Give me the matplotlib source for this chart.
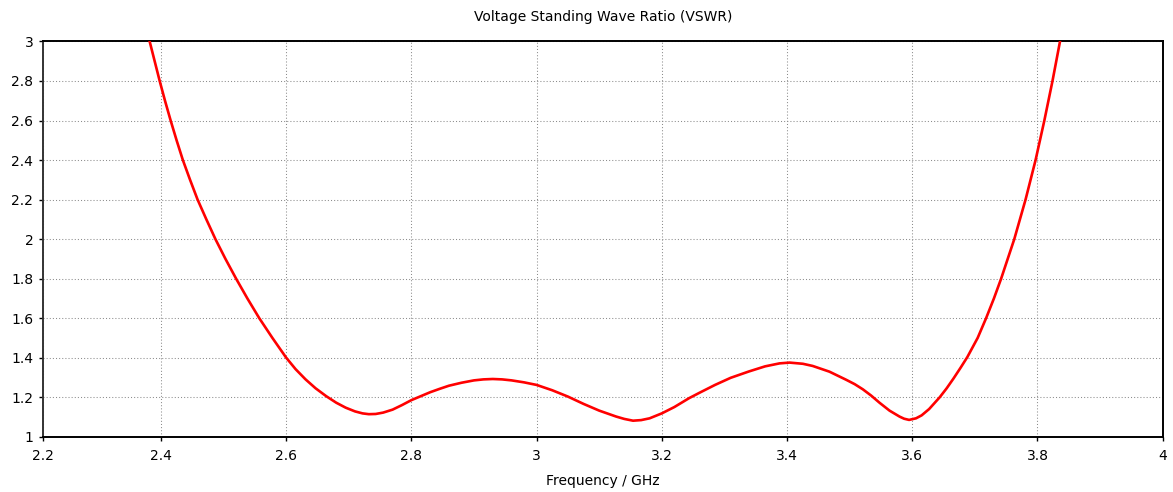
import matplotlib
matplotlib.use("Agg")
import matplotlib.pyplot as plt

# ---- data ----
freq_ghz = [2.374, 2.382, 2.390, 2.398, 2.4065, 2.4155, 2.425, 2.435, 2.4465, 2.4585,
            2.4725, 2.487, 2.503, 2.520, 2.538, 2.557, 2.578, 2.600, 2.615, 2.631,
            2.647, 2.664, 2.680, 2.695, 2.710, 2.722, 2.732, 2.743, 2.755, 2.770,
            2.785, 2.800, 2.815, 2.830, 2.845, 2.860, 2.880, 2.900, 2.915, 2.930,
            2.945, 2.960, 2.980, 3.000, 3.025, 3.050, 3.075, 3.100, 3.127, 3.140,
            3.154, 3.167, 3.1805, 3.200, 3.220, 3.2436, 3.260, 3.285, 3.310, 3.339,
            3.365, 3.388, 3.404, 3.4253, 3.441, 3.4678, 3.4945, 3.508, 3.521, 3.5344,
            3.5477, 3.5637, 3.5796, 3.587, 3.595, 3.606, 3.615, 3.627, 3.644, 3.655,
            3.666, 3.677, 3.688, 3.7045, 3.718, 3.7305, 3.742, 3.7525, 3.763, 3.772,
            3.781, 3.789, 3.797, 3.804, 3.811, 3.8175, 3.824, 3.830, 3.836, 3.8415]
vswr = [3.09, 3.00, 2.90, 2.80, 2.70, 2.60, 2.50, 2.40, 2.30, 2.20,
        2.10, 2.00, 1.90, 1.80, 1.70, 1.60, 1.50, 1.40, 1.342, 1.290,
        1.245, 1.205, 1.172, 1.147, 1.128, 1.118, 1.114, 1.115, 1.122, 1.137,
        1.160, 1.185, 1.205, 1.225, 1.242, 1.258, 1.273, 1.285, 1.290, 1.292,
        1.290, 1.285, 1.275, 1.262, 1.235, 1.203, 1.166, 1.132, 1.102, 1.090,
        1.081, 1.084, 1.093, 1.118, 1.150, 1.195, 1.222, 1.262, 1.298, 1.330,
        1.356, 1.371, 1.375, 1.369, 1.358, 1.329, 1.288, 1.266, 1.240, 1.208,
        1.172, 1.132, 1.102, 1.091, 1.085, 1.093, 1.108, 1.140, 1.200, 1.245,
        1.295, 1.348, 1.403, 1.500, 1.600, 1.700, 1.800, 1.900, 2.000, 2.100,
        2.200, 2.300, 2.400, 2.500, 2.600, 2.700, 2.800, 2.900, 3.000, 3.100]

x_tick_labels = ["2.2", "2.4", "2.6", "2.8", "3", "3.2", "3.4", "3.6", "3.8", "4"]
x_tick_values = [2.2, 2.4, 2.6, 2.8, 3.0, 3.2, 3.4, 3.6, 3.8, 4.0]
y_tick_values = [1.0, 1.2, 1.4, 1.6, 1.8, 2.0, 2.2, 2.4, 2.6, 2.8, 3.0]
y_tick_labels = ["1", "1.2", "1.4", "1.6", "1.8", "2", "2.2", "2.4", "2.6", "2.8", "3"]

title = "Voltage Standing Wave Ratio (VSWR)"
xlabel = "Frequency / GHz"

# ---- figure ----
plt.rcParams["font.family"] = ["DejaVu Sans"]
fig = plt.figure(figsize=(11.73, 4.92), dpi=100)
ax = fig.add_axes([0.0367, 0.1124, 0.9545, 0.8033])

x_left = 2.2117
ax.plot(freq_ghz, vswr, color="#ff0000", linewidth=1.9, solid_capstyle="round",
        solid_joinstyle="round", zorder=3)

ax.set_xlim(x_left, 4.0)
ax.set_ylim(1.0, 3.0)

xt = [x_left] + x_tick_values[1:]
ax.set_xticks(xt)
ax.set_xticklabels(x_tick_labels)
ax.set_yticks(y_tick_values)
ax.set_yticklabels(y_tick_labels)

ax.grid(True, color="#8c8c8c", linestyle=(0, (1, 2)), linewidth=0.75)
ax.set_axisbelow(True)

ax.tick_params(axis="both", direction="out", length=3, width=1.0, color="black",
               labelsize=10, labelcolor="black")
ax.tick_params(axis="x", pad=6)
ax.tick_params(axis="y", pad=4)

for side, sp in ax.spines.items():
    sp.set_color("black")
    sp.set_linewidth(1.4)
ax.spines["left"].set_color("#333333")

ax.set_title(title, fontsize=10, pad=15)
ax.set_xlabel(xlabel, fontsize=10, labelpad=8)

fig.savefig("out.png", dpi=100)
